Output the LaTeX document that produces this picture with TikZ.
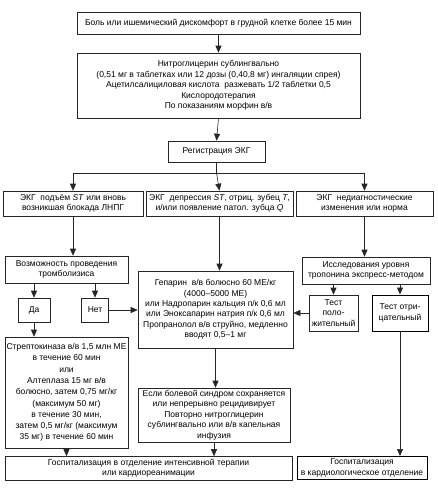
\documentclass[tikz,border=0pt]{standalone}
\usepackage{fontspec}
\setmainfont{Liberation Sans}
\usetikzlibrary{arrows.meta}

\begin{document}
\begin{tikzpicture}[
    x=1pt, y=-1pt,
    box/.style={
        rectangle, draw=black!85, line width=0.6pt,
        inner sep=0.5pt, align=center,
        font=\fontsize{8.5}{10.4}\selectfont
    },
    boldbox/.style={box, line width=1pt, draw=black},
    arrow/.style={-{Triangle[length=7pt,width=6pt]}, line width=0.6pt, draw=black!85},
    line/.style={line width=0.6pt, draw=black!85}
]
\useasboundingbox (0,0) rectangle (437,498);

% ==================== START ====================
\node[box, minimum width=283, minimum height=22] (pain) at (218.5,23)
    {Боль или ишемический дискомфорт в грудной клетке более 15 мин};
\node[box, minimum width=283, minimum height=65] (first) at (218.5,85.5)
    {Нитроглицерин сублингвально\\
     (0,51 мг в таблетках или 12 дозы (0,40,8 мг) ингаляции спрея)\\
     Ацетилсалициловая кислота\ \ разжевать 1/2 таблетки 0,5\\
     Кислородотерапия\\
     По показаниям морфин в/в};
\node[box, minimum width=97, minimum height=21] (ecg) at (216.5,151.5) {Регистрация ЭКГ};

% ==================== ECG RESULTS ====================
\node[box, minimum width=140, minimum height=25] (stup) at (73,203.5)
    {ЭКГ\ \ подъём \textit{ST} или вновь\\возникшая блокада ЛНПГ};
\node[box, minimum width=147, minimum height=25] (stdep) at (219.5,203.5)
    {ЭКГ\ \ депрессия \textit{ST}, отриц. зубец \textit{T},\\и/или появление патол. зубца \textit{Q}};
\node[box, minimum width=137, minimum height=25] (nondiag) at (364.5,203.5)
    {ЭКГ\ \ недиагностические\\изменения или норма};
\coordinate (bus) at (216.5,173);

% ==================== LEFT BRANCH ====================
\node[box, minimum width=123, minimum height=27] (thromb) at (66.5,269.5)
    {Возможность проведения\\тромболизиса};
\node[box, minimum width=32, minimum height=24] (yes) at (34,310) {Да};
\node[box, minimum width=27, minimum height=24] (no) at (95,310) {Нет};
\node[box, minimum width=123, minimum height=111,
      font=\fontsize{8.5}{11.3}\selectfont] (strepto) at (66.5,392.5)
    {Стрептокиназа в/в 1,5 млн МЕ\\
     в течение 60 мин\\
     или\\
     Алтеплаза 15 мг в/в\\
     болюсно, затем 0,75 мг/кг\\
     (максимум 50 мг)\\
     в течение 30 мин,\\
     затем 0,5 мг/кг (максимум\\
     35 мг) в течение 60 мин};

% ==================== MIDDLE BRANCH ====================
\node[box, minimum width=155, minimum height=77] (heparin) at (215.5,309.5)
    {Гепарин\ \ в/в болюсно 60 МЕ/кг\\
     (4000--5000 МЕ)\\
     или Надропарин кальция п/к 0,6 мл\\
     или Эноксапарин натрия п/к 0,6 мл\\
     Пропранолол в/в струйно, медленно\\
     вводят 0,5--1 мг};
\node[box, minimum width=152, minimum height=54] (ifpain) at (214,415)
    {Если болевой синдром сохраняется\\
     или непрерывно рецидивирует\\
     Повторно нитроглицерин\\
     сублингвально или в/в капельная\\
     инфузия};

% ==================== RIGHT BRANCH ====================
\node[box, minimum width=128, minimum height=27] (troponin) at (366,270.5)
    {Исследования уровня\\тропонина экспресс-методом};
\node[box, minimum width=49, minimum height=36] (pos) at (333.5,313)
    {Тест\\поло-\\жительный};
\node[boldbox, minimum width=56, minimum height=36] (neg) at (400,313)
    {Тест отри-\\цательный};

% ==================== HOSPITAL ====================
\node[box, minimum width=287, minimum height=24] (icu) at (148.5,468.5)
    {Госпитализация в отделение интенсивной терапии\\или кардиореанимации};
\node[boldbox, minimum width=130, minimum height=23] (cardio) at (362,468)
    {Госпитализация\\в кардиологическое отделение};

% ==================== ARROWS ====================
\draw[arrow] (pain.south) -- (first.north);
\draw[arrow] (first.south) -- (ecg.north);
\draw[line] (ecg.south) -- (bus);
\draw[arrow] (bus) -| (stup.north);
\draw[arrow] (bus) -- (stdep.north);
\draw[arrow] (bus) -| (nondiag.north);

\draw[arrow] (stup.south) -- (stup.south |- thromb.north);
\draw[arrow] (thromb.south -| yes) -- (yes.north);
\draw[arrow] (thromb.south -| no) -- (no.north);
\draw[arrow] (no.east) -- (no.east -| heparin.west);
\draw[arrow] (yes.south) -- (strepto.north -| yes);

\draw[arrow] (stdep.south) -- (stdep.south |- heparin.north);
\draw[arrow] (heparin.south) -- (heparin.south |- ifpain.north);

\draw[arrow] (nondiag.south) -- (nondiag.south |- troponin.north);
\draw[arrow] (troponin.south -| pos) -- (pos.north);
\draw[arrow] (troponin.south -| neg) -- (neg.north);
\draw[arrow] (pos.west) -- (pos.west -| heparin.east);

\draw[arrow] (strepto.south) -- (strepto.south |- icu.north);
\draw[arrow] (ifpain.south) -- (ifpain.south |- icu.north);
\draw[arrow] (neg.south) -- (neg.south |- cardio.north);

\end{tikzpicture}
\end{document}
